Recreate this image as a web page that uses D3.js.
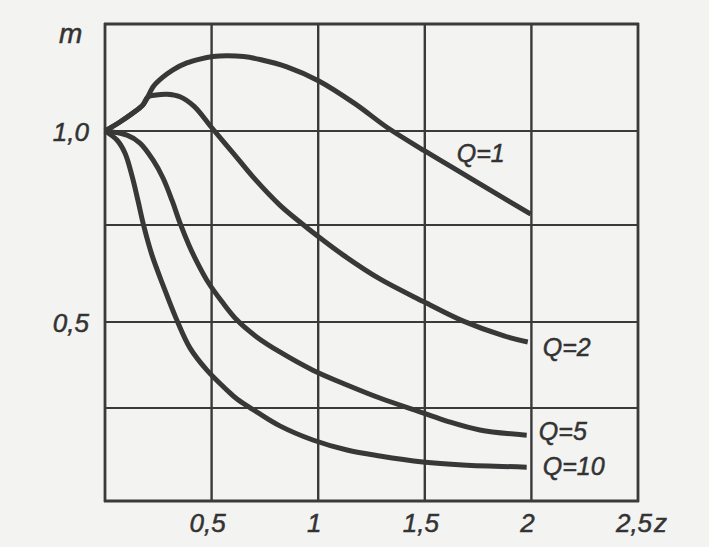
<!DOCTYPE html>
<html>
<head>
<meta charset="utf-8">
<script src="https://cdn.jsdelivr.net/npm/d3@7"></script>
<style>
  html, body { margin: 0; padding: 0; background: #f3f3f1; }
  svg { display: block; }
  text { font-family: "Liberation Sans", Arial, sans-serif; font-style: italic; fill: #333; stroke: #333; stroke-width: 0.5px; }
</style>
</head>
<body>
<svg id="chart" width="709" height="547"></svg>
<script>
// ---- data ----
const seriesNames = ["Q=1", "Q=2", "Q=5", "Q=10"];
const zQ1 = [0, 0.07, 0.131, 0.178, 0.2, 0.225, 0.267, 0.319, 0.384, 0.445, 0.506, 0.572, 0.65, 0.727, 0.853, 1.003, 1.172, 1.327, 1.5, 1.641, 1.833, 1.997];
const mQ1 = [1.0, 1.021, 1.042, 1.061, 1.079, 1.103, 1.124, 1.143, 1.159, 1.168, 1.174, 1.176, 1.174, 1.167, 1.150, 1.117, 1.064, 1.007, 0.947, 0.899, 0.834, 0.779];
const zQ2 = [0, 0.07, 0.131, 0.178, 0.2, 0.239, 0.291, 0.352, 0.417, 0.502, 0.609, 0.694, 0.82, 0.914, 1.003, 1.116, 1.289, 1.496, 1.678, 1.875, 1.983];
const mQ2 = [1.0, 1.021, 1.042, 1.061, 1.079, 1.084, 1.086, 1.080, 1.058, 1.007, 0.936, 0.878, 0.803, 0.758, 0.719, 0.673, 0.611, 0.552, 0.503, 0.459, 0.442];
const zQ5 = [0, 0.103, 0.164, 0.225, 0.272, 0.314, 0.352, 0.394, 0.431, 0.483, 0.549, 0.619, 0.713, 0.82, 0.975, 1.135, 1.289, 1.491, 1.603, 1.758, 1.978];
const mQ5 = [1.0, 0.989, 0.968, 0.923, 0.875, 0.816, 0.755, 0.698, 0.655, 0.603, 0.552, 0.505, 0.456, 0.413, 0.360, 0.317, 0.279, 0.237, 0.215, 0.191, 0.177];
const zQ10 = [0, 0.056, 0.094, 0.127, 0.155, 0.183, 0.22, 0.272, 0.333, 0.399, 0.478, 0.572, 0.619, 0.713, 0.82, 0.975, 1.135, 1.289, 1.491, 1.678, 1.978];
const mQ10 = [1.0, 0.976, 0.941, 0.880, 0.814, 0.745, 0.673, 0.595, 0.510, 0.424, 0.360, 0.302, 0.276, 0.239, 0.202, 0.164, 0.137, 0.121, 0.105, 0.097, 0.091];
const xGrid = [0, 0.5, 1, 1.5, 2, 2.5];
const yGrid = [0, 0.25, 0.5, 0.75, 1.0, 1.25];
const xTickValues = [0.5, 1, 1.5, 2, 2.5];
const xTickLabels = ["0,5", "1", "1,5", "2", "2,5"];
const yTickValues = [0.5, 1.0];
const yTickLabels = ["0,5", "1,0"];
const labelZ = [1.65, 2.053, 2.035, 2.053];
const labelM = [0.918, 0.401, 0.164, 0.070];
const xTitle = "z";
const yTitle = "m";

// ---- layout ----
const svg = d3.select("#chart");
const x = d3.scaleLinear().domain([0, 2.5]).range([105, 638]);
// hand-drawn grid: slightly uneven row spacing
const y = d3.scaleLinear().domain(yGrid).range([501, 408, 322, 225, 131, 24]);

const ink = "#3a3a3a";

// grid
svg.append("g").selectAll("line").data(xGrid).join("line")
  .attr("x1", d => x(d)).attr("x2", d => x(d))
  .attr("y1", y(1.25) - 1).attr("y2", y(0) + 1)
  .attr("stroke", ink).attr("stroke-width", d => (d === 0 || d === 2.5) ? 2.8 : 2.4);
svg.append("g").selectAll("line").data(yGrid).join("line")
  .attr("x1", x(0) - 1).attr("x2", x(2.5) + 1)
  .attr("y1", d => y(d)).attr("y2", d => y(d))
  .attr("stroke", ink).attr("stroke-width", d => (d === 0 || d === 1.25) ? 2.8 : 2.2);

// curves
const series = [
  { z: zQ1, m: mQ1 }, { z: zQ2, m: mQ2 }, { z: zQ5, m: mQ5 }, { z: zQ10, m: mQ10 }
];
const line = d3.line().x(d => x(d[0])).y(d => y(d[1])).curve(d3.curveCatmullRom.alpha(0.5));
svg.append("g").selectAll("path").data(series).join("path")
  .attr("d", s => line(s.z.map((v, i) => [v, s.m[i]])))
  .attr("fill", "none").attr("stroke", "#383838").attr("stroke-width", 5)
  .attr("stroke-linecap", "butt").attr("stroke-linejoin", "round");

// series labels
svg.append("g").selectAll("text").data(seriesNames).join("text")
  .attr("x", (d, i) => x(labelZ[i])).attr("y", (d, i) => y(labelM[i]))
  .attr("font-size", 25).text(d => d);

// x tick labels
svg.append("g").selectAll("text").data(xTickValues).join("text")
  .attr("x", d => x(d) - 4).attr("y", 532)
  .attr("text-anchor", "middle").attr("font-size", 26)
  .text((d, i) => xTickLabels[i]);
svg.append("text").attr("x", x(2.5) + 16).attr("y", 532)
  .attr("font-size", 26).text(xTitle);

// y tick labels
svg.append("g").selectAll("text").data(yTickValues).join("text")
  .attr("x", x(0) - 16).attr("y", d => y(d) + 10)
  .attr("text-anchor", "end").attr("font-size", 26)
  .text((d, i) => yTickLabels[i]);
svg.append("text").attr("x", 59).attr("y", 43)
  .attr("font-size", 28).text(yTitle);
</script>
</body>
</html>
